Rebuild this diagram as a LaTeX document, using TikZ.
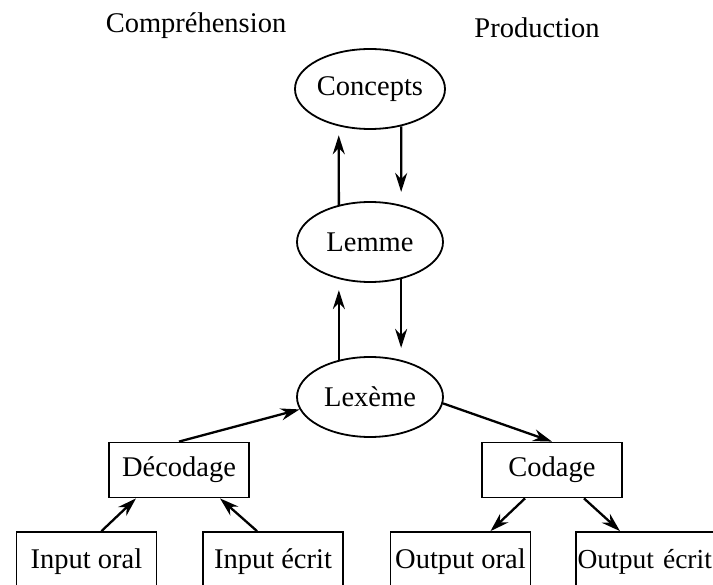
\documentclass[tikz,border=0pt]{standalone}
\usepackage{fontspec}
\setmainfont{Liberation Serif}
\usetikzlibrary{shapes,arrows.meta}

\begin{document}
\begin{tikzpicture}[x=1pt,y=-1pt,
				every node/.style={font=\fontsize{28.5}{33}\selectfont},
				bulle/.style={draw,ellipse,line width=1.8pt,minimum width=146pt,minimum height=80pt,inner sep=0pt},
				boite/.style={draw,rectangle,line width=1.8pt,minimum width=140pt,minimum height=55pt,inner sep=0pt},
				fleche/.style={line width=2.3pt,-{Stealth[length=19pt,width=12pt]}}]
				\useasboundingbox (0,0) rectangle (713,585);
				% titres
				\node[anchor=base] (compr) at (196,33) {Compréhension};
				\node[anchor=base] (prod) at (537,38) {Production};
				% niveaux
				\node[bulle] (concepts) at (370,89) {Concepts};
				\node[bulle] (lemme) at (370,242) {Lemme};
				\node[bulle] (lexeme) at (370,397) {Lexème};
				\node[boite] (decodage) at (179,470) {Décodage};
				\node[boite] (codage) at (552,470) {Codage};
				\node[boite,minimum height=60pt] (inoral) at (86.5,562) {Input oral};
				\node[boite,minimum height=60pt] (inecrit) at (273,562) {Input écrit};
				\node[boite,minimum height=60pt] (outoral) at (460.5,562) {Output oral};
				\node[boite,minimum height=60pt,text width=137pt,align=left,inner xsep=1.5pt,font=\fontsize{27.5}{33}\selectfont] (outecrit) at (646,562) {Output écrit};
				% fleches
				\draw[fleche,shorten >=9pt] (lemme.130) -- (concepts.230);
				\draw[fleche,shorten >=13pt] (concepts.-50) -- (lemme.50);
				\draw[fleche,shorten >=11pt] (lexeme.130) -- (lemme.230);
				\draw[fleche,shorten >=12pt] (lemme.-50) -- (lexeme.50);
				\draw[fleche] (decodage.north) -- (lexeme.190);
				\draw[fleche] (lexeme.-5) -- (codage.north);
				\draw[fleche] ([xshift=15pt]inoral.north) -- ([xshift=-43pt]decodage.south);
				\draw[fleche] ([xshift=-16pt]inecrit.north) -- ([xshift=41pt]decodage.south);
				\draw[fleche] ([xshift=-27pt]codage.south) -- ([xshift=30pt]outoral.north);
				\draw[fleche] ([xshift=32pt]codage.south) -- ([xshift=-26pt]outecrit.north);
				\end{tikzpicture}
\end{document}
